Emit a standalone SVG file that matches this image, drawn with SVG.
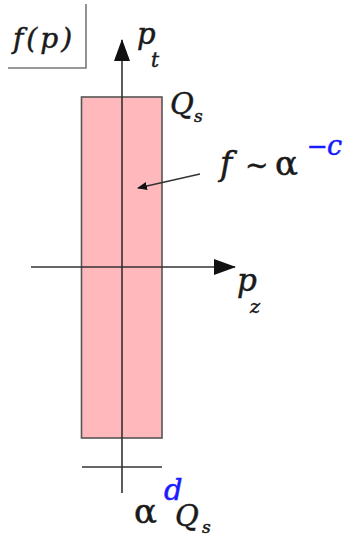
<svg xmlns="http://www.w3.org/2000/svg" width="353" height="539" viewBox="0 0 353 539">
<style>
.ax{stroke:#333;stroke-width:1.6;fill:none}
.t{font-family:"DejaVu Serif","Liberation Serif",serif;font-style:italic;fill:#1a1a1a;stroke:#1a1a1a;stroke-width:0.5}
.u{font-family:"DejaVu Serif","Liberation Serif",serif;fill:#1a1a1a;stroke:#1a1a1a;stroke-width:0.5}
.b{fill:#1a1aff;stroke:#1a1aff}
</style>
<defs>
<marker id="ah" markerWidth="10" markerHeight="8" refX="9" refY="4" orient="auto" markerUnits="userSpaceOnUse" viewBox="0 0 10 8">
<path d="M0,0 L10,4 L0,8 z" fill="#111"/>
</marker>
<marker id="ab" markerWidth="22" markerHeight="16" refX="21" refY="8" orient="auto" markerUnits="userSpaceOnUse" viewBox="0 0 22 16">
<path d="M0,0 L22,8 L0,16 z" fill="#111"/>
</marker>
</defs>
<g id="label-box">
<polyline points="8,68 86,68 86,4" stroke="#777" stroke-width="1.6" fill="none"/>
<text class="t" x="13" y="48" font-size="28" letter-spacing="3">f(p)</text>
</g>
<g id="region">
<rect x="81.5" y="97" width="80.5" height="341" fill="#ffb8bb" stroke="#555" stroke-width="1.6"/>
</g>
<g id="connectors">
<line class="ax" x1="122" y1="493" x2="122" y2="40" marker-end="url(#ab)"/>
<line class="ax" x1="31" y1="267" x2="235" y2="267" marker-end="url(#ab)"/>
<line class="ax" x1="82" y1="467" x2="162" y2="467"/>
<line stroke="#333" stroke-width="1.5" x1="200" y1="174" x2="138" y2="188" marker-end="url(#ah)"/>
</g>
<g id="pt">
<text class="t" x="137" y="44" font-size="29">p</text>
<text class="t" x="151" y="67" font-size="20">t</text>
</g>
<g id="qs-top">
<text class="t" x="170" y="114" font-size="29">Q</text>
<text class="t" x="194" y="122" font-size="17">s</text>
</g>
<g id="f-label">
<text class="t" x="220" y="175" font-size="33">f</text>
<text class="u" x="245" y="175" font-size="28">~</text>
<text class="u" x="275" y="175" font-size="34">α</text>
<text class="u b" x="307" y="155" font-size="25">−</text>
<text class="t b" x="327" y="155" font-size="27">c</text>
</g>
<g id="pz">
<text class="t" x="237" y="291" font-size="31">p</text>
<text class="t" x="250" y="313" font-size="19">z</text>
</g>
<g id="bottom-label">
<text class="u" x="134" y="523" font-size="34">α</text>
<text class="t b" x="164" y="500" font-size="29">d</text>
<text class="t" x="175" y="526" font-size="29">Q</text>
<text class="t" x="202" y="533" font-size="17">s</text>
</g>
</svg>
